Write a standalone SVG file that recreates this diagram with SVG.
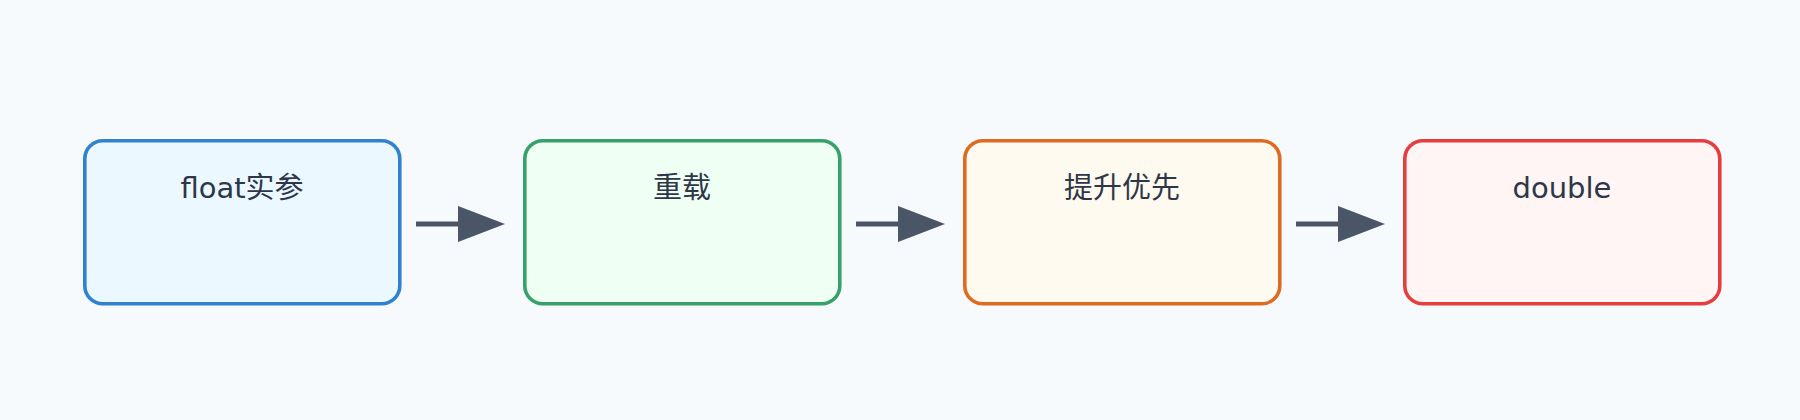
<svg xmlns="http://www.w3.org/2000/svg" width="1800" height="420" viewBox="0 0 1800 420">
<defs>
<style>
.node rect{stroke-width:3.6}
.lbl{font-family:"DejaVu Sans","Noto Sans CJK SC",sans-serif;font-size:29px;fill:#2d3748;text-anchor:middle}
.conn line{stroke:#4a5568;stroke-width:5}
.conn polygon{fill:#4a5568}
</style>
</defs>
<rect x="0" y="0" width="1800" height="420" fill="#f7fafc"/>
<g id="node-float" class="node">
<rect x="84.8" y="140.8" width="315" height="163" rx="18" fill="#ebf8ff" stroke="#3182ce"/>
<text class="lbl" x="242" y="198">float实参</text>
</g>
<g id="node-overload" class="node">
<rect x="524.8" y="140.8" width="315" height="163" rx="18" fill="#f0fff4" stroke="#38a169"/>
<text class="lbl" x="682" y="198">重载</text>
</g>
<g id="node-promote" class="node">
<rect x="964.8" y="140.8" width="315" height="163" rx="18" fill="#fffaf0" stroke="#dd6b20"/>
<text class="lbl" x="1122" y="198">提升优先</text>
</g>
<g id="node-double" class="node">
<rect x="1404.8" y="140.8" width="315" height="163" rx="18" fill="#fff5f5" stroke="#e53e3e"/>
<text class="lbl" x="1562" y="198">double</text>
</g>
<g id="connectors" class="conn">
<line x1="416" y1="224" x2="460" y2="224"/>
<polygon points="458,206 505,224 458,242"/>
<line x1="856" y1="224" x2="900" y2="224"/>
<polygon points="898,206 945,224 898,242"/>
<line x1="1296" y1="224" x2="1340" y2="224"/>
<polygon points="1338,206 1385,224 1338,242"/>
</g>
</svg>
